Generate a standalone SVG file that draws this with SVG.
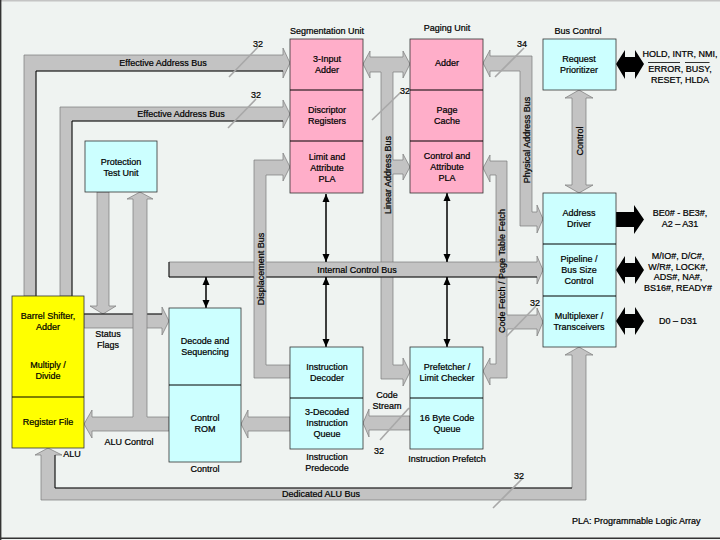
<svg xmlns="http://www.w3.org/2000/svg" width="720" height="540" viewBox="0 0 720 540">
<defs>
<style>
text{font-family:"Liberation Sans",Arial,sans-serif;font-size:9px;fill:#000;stroke:#000;stroke-width:0.22}
.m{text-anchor:middle}
.bus{fill:#c3c3c3;stroke:#7a7a7a;stroke-width:0.7;stroke-linejoin:miter}
.blk{fill:#000}
.pink{fill:#ffaec9;stroke:#333;stroke-width:0.8}
.cyan{fill:#ccffff;stroke:#333;stroke-width:0.8}
.yel{fill:#ffff00;stroke:#333;stroke-width:0.8}
.div{stroke:#000;stroke-width:1}
.thin{stroke:#000;stroke-width:1.5;marker-start:url(#ah);marker-end:url(#ah)}
.sl{stroke:#a8a8a8;stroke-width:1.6}
.edge{fill:none;stroke:#000;stroke-width:0.9}
</style>
<marker id="ah" markerWidth="8" markerHeight="8" refX="8" refY="4" orient="auto-start-reverse" markerUnits="userSpaceOnUse"><path d="M0,0.5 L8,4 L0,7.5 z" fill="#000"/></marker>
</defs>
<rect x="0" y="0" width="720" height="540" fill="#eff3f1"/>
<line x1="0" y1="0.7" x2="720" y2="0.7" stroke="#c4c4c4" stroke-width="1.4"/>
<line x1="0.7" y1="0" x2="0.7" y2="540" stroke="#333" stroke-width="1.4"/>
<line x1="0" y1="538.3" x2="720" y2="538.3" stroke="#333" stroke-width="1.4"/>

<g id="connectors">
 <!-- Effective Address Bus 1 -->
 <polygon class="bus" points="24,296 24,55 283,55 283,48 290,63 283,78 283,71 36,71 36,296"/>
 <polyline class="edge" points="283,71 36,71 36,296"/>
 <text class="m" x="163" y="66">Effective Address Bus</text>
 <line class="sl" x1="229" y1="77" x2="258" y2="47"/>
 <text class="m" x="258" y="47">32</text>
 <!-- Effective Address Bus 2 -->
 <polygon class="bus" points="60,296 60,107 283,107 283,100 290,114 283,128 283,121 72,121 72,296"/>
 <polyline class="edge" points="283,121 72,121 72,296"/>
 <text class="m" x="181" y="117">Effective Address Bus</text>
 <line class="sl" x1="228" y1="128" x2="256" y2="99"/>
 <text class="m" x="256" y="98">32</text>
 <!-- Linear Address Bus -->
 <polygon class="bus" points="363,64 370,51 370,57 403,57 403,51 410,64 403,78 403,72 393,72 393,160 403,160 403,154 410,167 403,180 403,174 393,174 393,365 403,365 403,358 410,372 403,386 403,379 381,379 381,72 370,72 370,78"/>
 <text transform="translate(390.5,175) rotate(-90)" class="m">Linear Address Bus</text>
 <line class="sl" x1="372" y1="120" x2="401" y2="92"/>
 <text class="m" x="405" y="94">32</text>
 <!-- Physical Address Bus -->
 <polygon class="bus" points="483,63 490,50 490,56 532,56 532,212 537,212 537,205 543,219 537,233 537,226 520,226 520,71 490,71 490,77"/>
 <text transform="translate(529.5,140) rotate(-90)" class="m">Physical Address Bus</text>
 <line class="sl" x1="495" y1="77" x2="524" y2="48"/>
 <text class="m" x="522" y="47">34</text>
 <!-- Control -->
 <polygon class="bus" points="579,90 593,98 586,98 586,185 593,185 579,193 565,185 572,185 572,98 565,98"/>
 <text transform="translate(582.5,141) rotate(-90)" class="m">Control</text>
 <!-- Code Fetch / Page Table Fetch -->
 <polygon class="bus" points="483,168 490,155 490,161 507,161 507,315 537,315 537,308 543,322 537,336 537,329 507,329 507,378 490,378 490,385 483,371 490,358 490,364 496,364 496,175 490,175 490,182"/>
 <line class="sl" x1="506" y1="337" x2="536" y2="306"/>
 <text class="m" x="535" y="306">32</text>
 <!-- Internal Control Bus -->
 <polygon class="bus" points="169,262 537,262 537,256 543,270 537,284 537,277 169,277"/>
 <polyline class="edge" points="169,262 169,277 537,277"/>
 <text class="m" x="357" y="273">Internal Control Bus</text>
 <text transform="translate(504.5,271) rotate(-90)" class="m">Code Fetch / Page Table Fetch</text>
 <!-- Displacement Bus -->
 <polygon class="bus" points="254,378 254,160 283,160 283,153 290,167 283,181 283,175 266,175 266,365 290,365 290,378"/>
 <text transform="translate(263.5,269) rotate(-90)" class="m">Displacement Bus</text>
 <!-- Protection test unit down -->
 <polygon class="bus" points="97,192 109,192 109,306 116,306 103,314 90,306 97,306"/>
 <!-- Status Flags -->
 <polygon class="bus" points="84,314 162,314 162,307 169,321 162,335 162,328 84,328"/>
 <line class="edge" x1="84" y1="314" x2="162" y2="314"/>
 <text class="m" x="108" y="337">Status</text>
 <text class="m" x="108" y="348">Flags</text>
 <!-- ALU Control + up to protection unit -->
 <polygon class="bus" points="140,192 153,199 147,199 147,417 169,417 169,431 92,431 92,438 84,424 92,410 92,417 133,417 133,199 127,199"/>
 <text class="m" x="129" y="445">ALU Control</text>
 <!-- Queue to Control ROM -->
 <polygon class="bus" points="290,417 290,431 248,431 248,438 241,424 248,410 248,417"/>
 <!-- Code queue to decoded queue -->
 <polygon class="bus" points="410,416 410,430 369,430 369,437 363,423 369,409 369,416"/>
 <line class="sl" x1="380" y1="440" x2="409" y2="408"/>
 <text class="m" x="387" y="398">Code</text>
 <text class="m" x="387" y="409">Stream</text>
 <text class="m" x="379" y="454">32</text>
 <!-- Dedicated ALU Bus -->
 <polygon class="bus" points="579,347 593,355 586,355 586,500 41,500 41,455 35,455 48,448 62,455 55,455 55,488 572,488 572,355 565,355"/>
 <polyline class="edge" points="55,455 55,488 572,488"/>
 <text class="m" x="321" y="497">Dedicated ALU Bus</text>
 <line class="sl" x1="493" y1="508" x2="523" y2="478"/>
 <text class="m" x="519" y="479">32</text>
 <text class="m" x="72" y="457">ALU</text>
 <!-- thin double arrows -->
 <line class="thin" x1="326" y1="194" x2="326" y2="262"/>
 <line class="thin" x1="326" y1="277" x2="326" y2="347"/>
 <line class="thin" x1="447" y1="193" x2="447" y2="262"/>
 <line class="thin" x1="447" y1="277" x2="447" y2="347"/>
 <line class="thin" x1="206" y1="277" x2="206" y2="308"/>
 <!-- black external arrows -->
 <polygon class="blk" points="616,64 625,50 625,57 635,57 635,50 644,64 635,79 635,72 625,72 625,79"/>
 <polygon class="blk" points="616,212 634,212 634,205 644,219.5 634,234 634,227 616,227"/>
 <polygon class="blk" points="616,270 625,256 625,263 635,263 635,256 644,270 635,284 635,277 625,277 625,284"/>
 <polygon class="blk" points="616,321 625,307 625,314 635,314 635,307 644,321 635,335 635,328 625,328 625,335"/>
</g>

<g id="segmentation-unit">
 <text class="m" x="327" y="34">Segmentation Unit</text>
 <rect class="pink" x="290" y="39" width="73" height="154"/>
 <line class="div" x1="290" y1="90" x2="363" y2="90"/>
 <line class="div" x1="290" y1="141" x2="363" y2="141"/>
 <text class="m" x="327" y="62">3-Input</text>
 <text class="m" x="327" y="73">Adder</text>
 <text class="m" x="327" y="113">Discriptor</text>
 <text class="m" x="327" y="124">Registers</text>
 <text class="m" x="327" y="160">Limit and</text>
 <text class="m" x="327" y="171">Attribute</text>
 <text class="m" x="327" y="182">PLA</text>
</g>
<g id="paging-unit">
 <text class="m" x="447" y="31">Paging Unit</text>
 <rect class="pink" x="410" y="39" width="73" height="154"/>
 <line class="div" x1="410" y1="90" x2="483" y2="90"/>
 <line class="div" x1="410" y1="141" x2="483" y2="141"/>
 <text class="m" x="447" y="66">Adder</text>
 <text class="m" x="447" y="113">Page</text>
 <text class="m" x="447" y="124">Cache</text>
 <text class="m" x="447" y="159">Control and</text>
 <text class="m" x="447" y="170">Attribute</text>
 <text class="m" x="447" y="181">PLA</text>
</g>
<g id="request-prioritizer">
 <text class="m" x="578" y="34">Bus Control</text>
 <rect class="cyan" x="543" y="39" width="73" height="51"/>
 <text class="m" x="579" y="62">Request</text>
 <text class="m" x="579" y="73">Prioritizer</text>
 <text class="m" x="680" y="57">HOLD, INTR, NMI,</text>
 <text class="m" x="680" y="72">ERROR, BUSY,</text>
 <line x1="648" y1="62.5" x2="680" y2="62.5" stroke="#000" stroke-width="0.8"/>
 <line x1="685" y1="62.5" x2="709.5" y2="62.5" stroke="#000" stroke-width="0.8"/>
 <text class="m" x="680" y="83">RESET, HLDA</text>
</g>
<g id="bus-interface">
 <rect class="cyan" x="543" y="193" width="73" height="154"/>
 <line class="div" x1="543" y1="244" x2="616" y2="244"/>
 <line class="div" x1="543" y1="296" x2="616" y2="296"/>
 <text class="m" x="579" y="216">Address</text>
 <text class="m" x="579" y="227">Driver</text>
 <text class="m" x="579" y="262">Pipeline /</text>
 <text class="m" x="579" y="273">Bus Size</text>
 <text class="m" x="579" y="284">Control</text>
 <text class="m" x="579" y="319">Multiplexer /</text>
 <text class="m" x="579" y="330">Transceivers</text>
 <text class="m" x="680" y="216">BE0# - BE3#,</text>
 <text class="m" x="680" y="227">A2 – A31</text>
 <text class="m" x="678" y="259">M/IO#, D/C#,</text>
 <text class="m" x="678" y="269.5">W/R#, LOCK#,</text>
 <text class="m" x="678" y="280">ADS#, NA#,</text>
 <text class="m" x="678" y="290.5">BS16#, READY#</text>
 <text class="m" x="678" y="324">D0 – D31</text>
</g>
<g id="protection-test-unit">
 <rect class="cyan" x="85" y="141" width="72" height="51"/>
 <text class="m" x="121" y="165">Protection</text>
 <text class="m" x="121" y="176">Test Unit</text>
</g>
<g id="alu">
 <rect class="yel" x="12" y="296" width="72" height="152"/>
 <line class="div" x1="12" y1="397" x2="84" y2="397"/>
 <text class="m" x="48" y="319">Barrel Shifter,</text>
 <text class="m" x="48" y="330">Adder</text>
 <text class="m" x="48" y="368">Multiply /</text>
 <text class="m" x="48" y="379">Divide</text>
 <text class="m" x="48" y="425">Register File</text>
</g>
<g id="control-unit">
 <rect class="cyan" x="169" y="308" width="72" height="154"/>
 <line class="div" x1="169" y1="385" x2="241" y2="385"/>
 <text class="m" x="205" y="344">Decode and</text>
 <text class="m" x="205" y="355">Sequencing</text>
 <text class="m" x="205" y="421">Control</text>
 <text class="m" x="205" y="432">ROM</text>
 <text class="m" x="205" y="472">Control</text>
</g>
<g id="instruction-predecode">
 <rect class="cyan" x="290" y="347" width="73" height="102"/>
 <line class="div" x1="290" y1="398" x2="363" y2="398"/>
 <text class="m" x="327" y="370">Instruction</text>
 <text class="m" x="327" y="381">Decoder</text>
 <text class="m" x="327" y="415">3-Decoded</text>
 <text class="m" x="327" y="426">Instruction</text>
 <text class="m" x="327" y="437">Queue</text>
 <text class="m" x="327" y="460">Instruction</text>
 <text class="m" x="327" y="471">Predecode</text>
</g>
<g id="instruction-prefetch">
 <rect class="cyan" x="410" y="347" width="73" height="102"/>
 <line class="div" x1="410" y1="398" x2="483" y2="398"/>
 <text class="m" x="447" y="370">Prefetcher /</text>
 <text class="m" x="447" y="381">Limit Checker</text>
 <text class="m" x="447" y="421">16 Byte Code</text>
 <text class="m" x="447" y="432">Queue</text>
 <text class="m" x="447" y="462">Instruction Prefetch</text>
</g>
<text x="572" y="524">PLA: Programmable Logic Array</text>
</svg>
